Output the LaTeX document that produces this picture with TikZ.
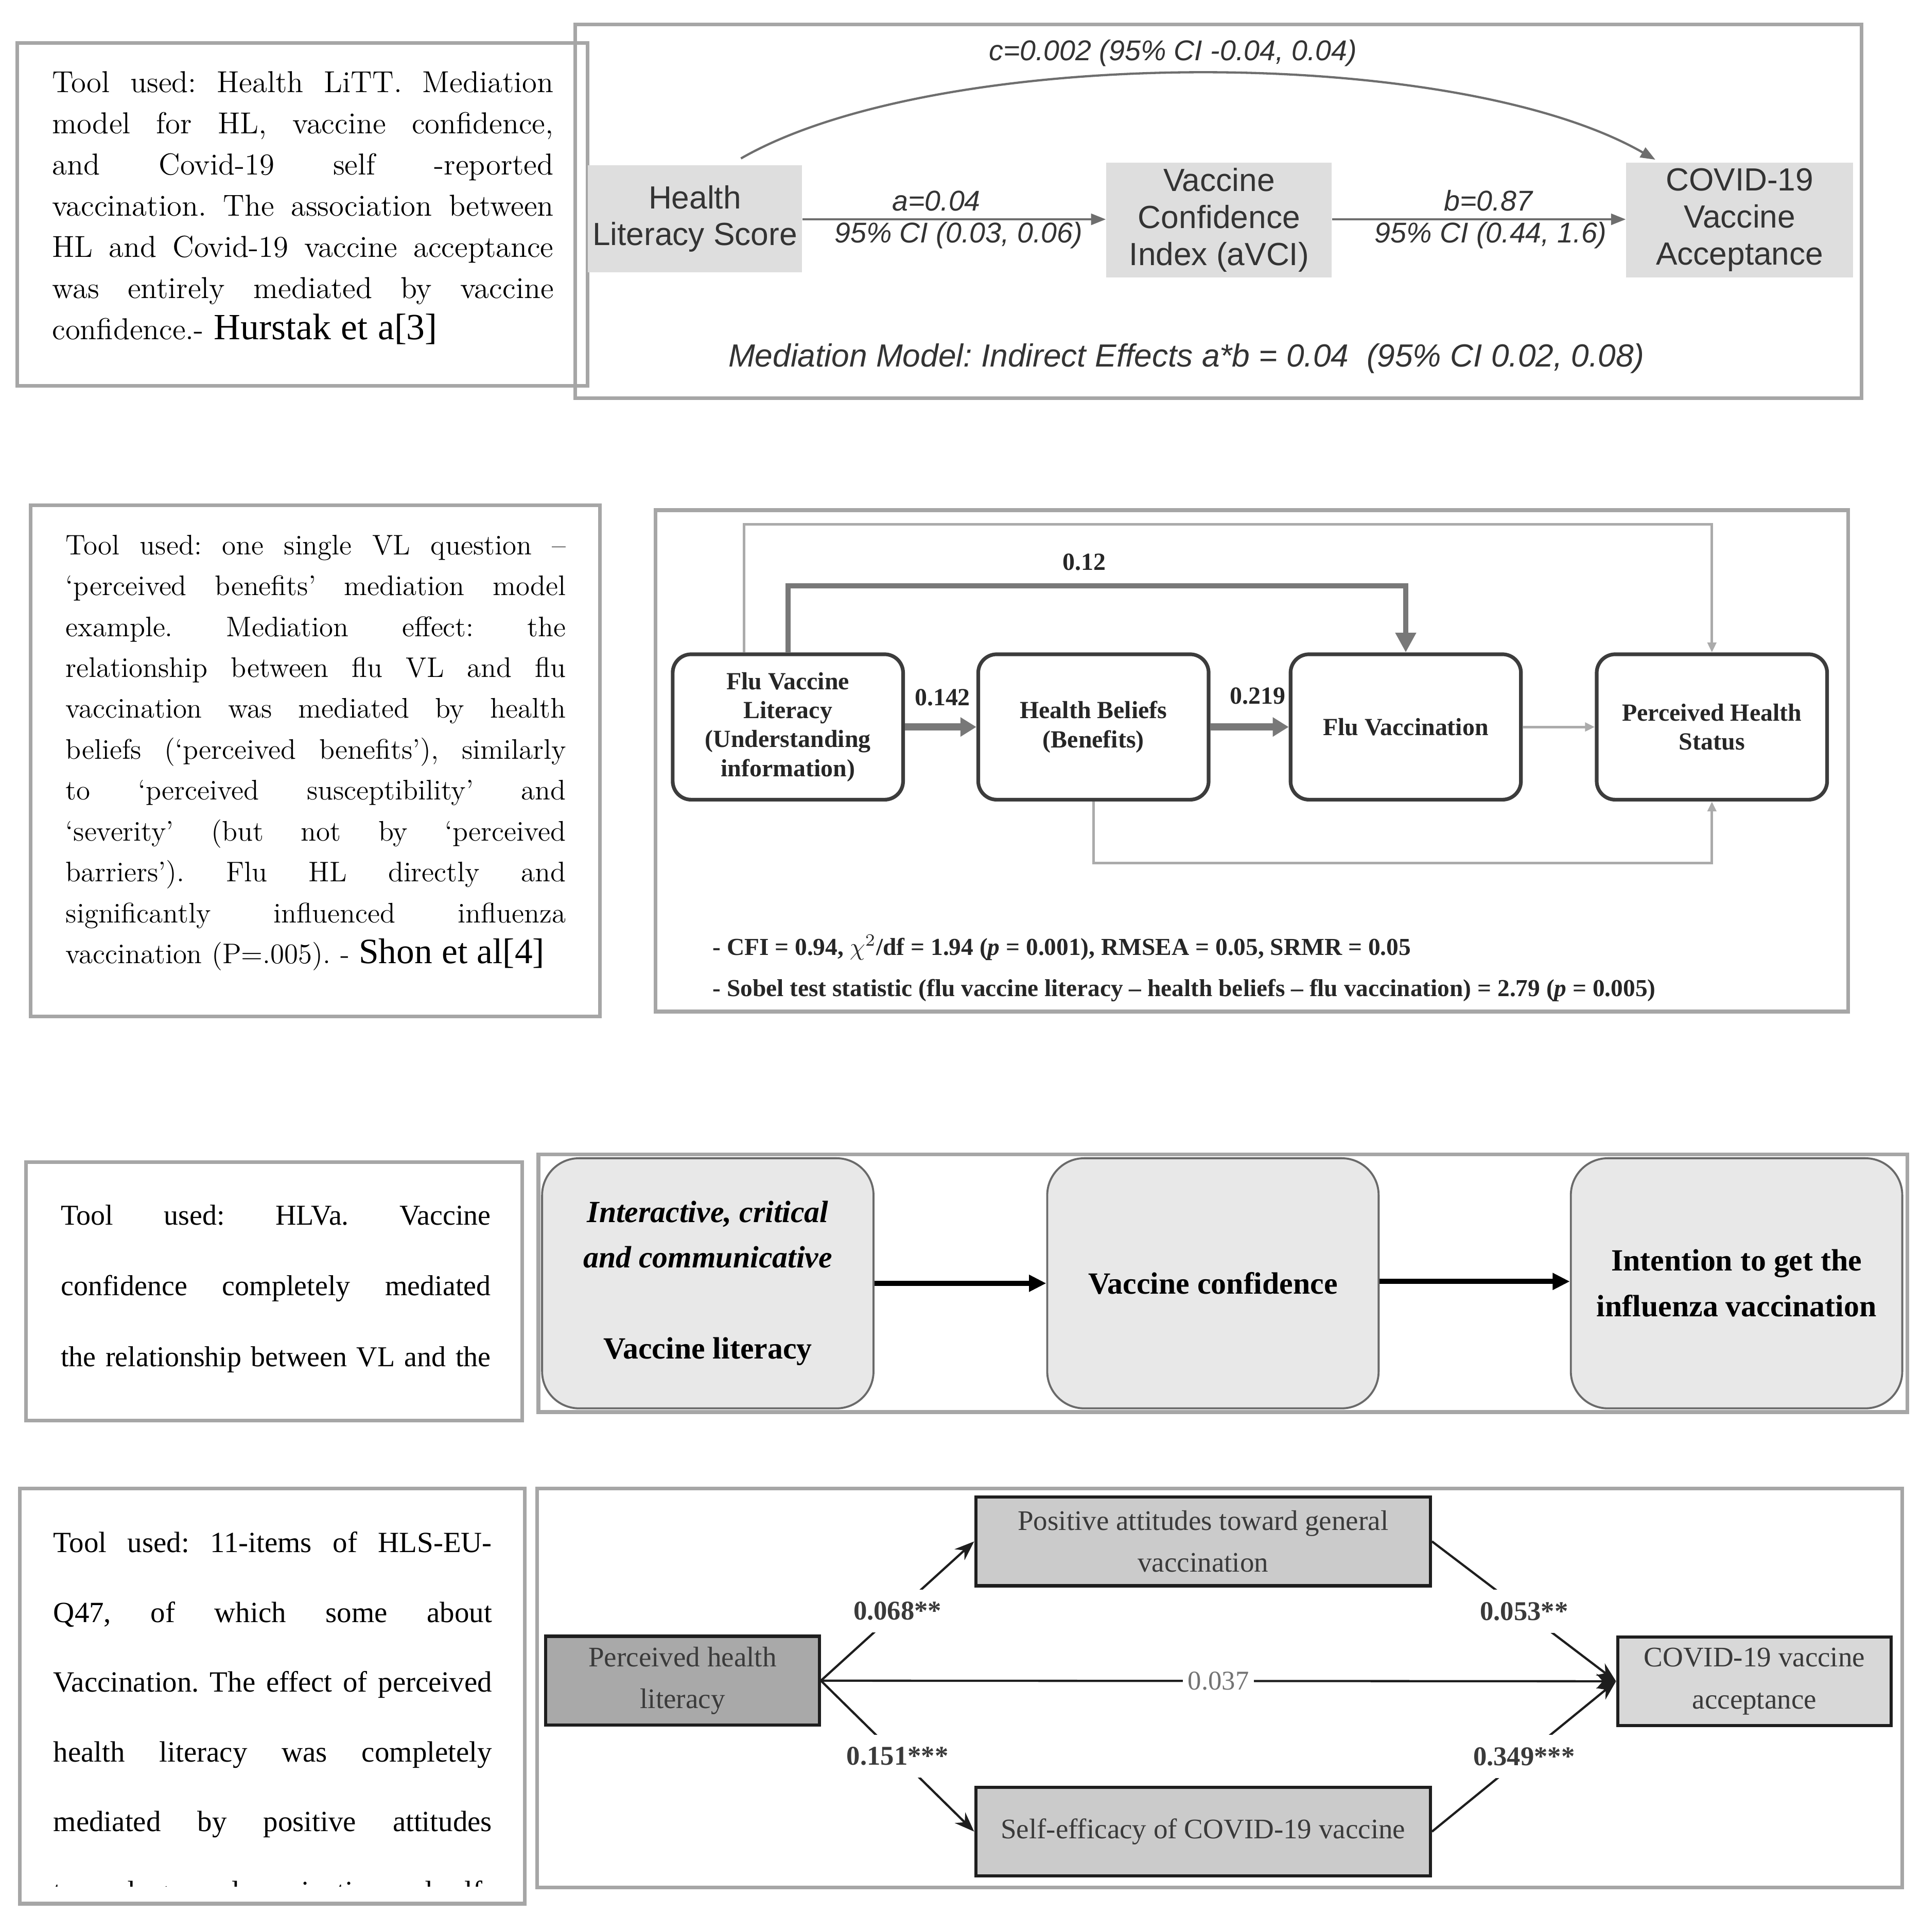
\documentclass[tikz,border=0pt]{standalone}
\usepackage{fontspec}
\newfontfamily\timesfont{Liberation Serif}
\newfontfamily\arialfont{Liberation Sans}
\usetikzlibrary{arrows.meta}
\definecolor{frameGray}{HTML}{A6A6A6}
\definecolor{textGray}{HTML}{333333}
\definecolor{boxGray}{HTML}{DEDEDE}
\definecolor{arrowGray}{HTML}{6E6E6E}
\definecolor{fluBorder}{HTML}{3C3C3C}
\definecolor{fluThick}{HTML}{787878}
\definecolor{fluThin}{HTML}{ABABAB}
\definecolor{hlvaBorder}{HTML}{6A6A6A}
\definecolor{hlvaFill}{HTML}{E8E8E8}
\definecolor{hlsBorder}{HTML}{1E1E1E}
\definecolor{hlsDark}{HTML}{A9A9A9}
\definecolor{hlsMid}{HTML}{CBCBCB}
\definecolor{hlsLight}{HTML}{D8D8D8}
\definecolor{hlsText}{HTML}{3A3A3A}
\newlength{\notewidth}
\newcommand{\jline}[1]{\hbox to \notewidth{\spaceskip=0pt \xspaceskip=0pt #1}\par}
\frenchspacing

\begin{document}
\begin{tikzpicture}[x=0.5pt,y=-0.5pt,
		frame/.style={draw=frameGray,line width=1.5pt},
		note/.style={anchor=base west,inner sep=0pt,text width=#1,
			execute at begin node={\setlength{\notewidth}{#1}}},
		litt box/.style={fill=boxGray,inner sep=0pt,align=center,text=textGray,
			font=\arialfont\fontsize{13}{15}\selectfont},
		litt label/.style={inner sep=0pt,text=textGray,
			font=\arialfont\itshape\fontsize{11.6}{14}\selectfont},
		litt arrow/.style={draw=arrowGray,line width=0.9pt,
			-{Triangle[length=6pt,width=4.5pt]}},
		flu box/.style={draw=fluBorder,line width=1.5pt,rounded corners=7.5pt,
			minimum width=93.5pt,minimum height=59pt,inner sep=1pt,align=center,
			text=black!85,font=\timesfont\bfseries\fontsize{10}{11.75}\selectfont},
		flu label/.style={inner sep=0pt,text=black!85,
			font=\timesfont\bfseries\fontsize{10}{12}\selectfont},
		hlva box/.style={draw=hlvaBorder,line width=0.8pt,rounded corners=15pt,
			fill=hlvaFill,minimum width=134.5pt,minimum height=101.5pt,align=center,
			font=\timesfont\bfseries\fontsize{12.5}{18.5}\selectfont},
		hlva arrow/.style={draw=black,line width=2pt,
			-{Triangle[length=7pt,width=6.5pt]}},
		hls box/.style={draw=hlsBorder,line width=1.3pt,minimum height=36pt,
			inner sep=1pt,align=center,text=hlsText,
			font=\timesfont\fontsize{11.5}{17}\selectfont},
		hls label/.style={fill=white,inner xsep=2pt,inner ysep=5pt,text=hlsText,
			font=\timesfont\bfseries\fontsize{11}{13}\selectfont},
		hls arrow/.style={draw=hlsBorder,line width=0.9pt,
			-{Stealth[length=8pt,width=6pt]}}]
	\path[use as bounding box,fill=white] (0,0) rectangle (1559,1568);

	% Health LiTT
	\draw[frame] (467,20) rectangle (1511,323);
	\draw[frame] (14,35) rectangle (477,313);
	\node[note=203.5pt,font=\fontsize{12.3}{16.7}\selectfont] (hurstak) at (42,75) {%
		\jline{Tool used: Health LiTT. Mediation}
		\jline{model for HL, vaccine confidence,}
		\jline{and Covid-19 self -reported}
		\jline{vaccination. The association between}
		\jline{HL and Covid-19 vaccine acceptance}
		\jline{was entirely mediated by vaccine}
		confidence.- {\timesfont\fontsize{15}{16}\selectfont Hurstak et a[3]}};
	\node[litt box,minimum width=87pt,minimum height=43.5pt] (hls) at (564,177.5) {Health\\Literacy Score};
	\node[litt box,minimum width=91.5pt,minimum height=46.5pt] (vci) at (989.5,178.5) {Vaccine\\Confidence\\Index (aVCI)};
	\node[litt box,minimum width=92pt,minimum height=46.5pt] (cva) at (1412,178.5) {COVID-19\\Vaccine\\Acceptance};
	\draw[litt arrow] (hls.east |- 0,178) -- (vci.west |- 0,178);
	\draw[litt arrow] (vci.east |- 0,178) -- (cva.west |- 0,178);
	\draw[litt arrow] ([xshift=-25pt,yshift=2.5pt]hls.north east)
		.. controls +(80pt,46pt) and +(-82pt,47pt) .. ([xshift=12pt,yshift=1pt]cva.north west);
	\node[litt label] (cpath) at (952,43) {c=0.002 (95\% CI -0.04, 0.04)};
	\node[litt label] (apath) at (760,163) {a=0.04};
	\node[litt label] (aci) at (778,191) {95\% CI (0.03, 0.06)};
	\node[litt label] (bpath) at (1208,163) {b=0.87};
	\node[litt label] (bci) at (1210,191) {95\% CI (0.44, 1.6)};
	\node[litt label,font=\arialfont\itshape\fontsize{13}{15}\selectfont] (indirect) at (963,291)
		{Mediation Model: Indirect Effects a*b = 0.04\ \ (95\% CI 0.02, 0.08)};

	% one single VL question
	\draw[frame] (532,414) rectangle (1500,821);
	\draw[frame] (25,410) rectangle (487,825);
	\node[note=203pt,font=\fontsize{11.5}{16.6}\selectfont] (shon) at (53,450) {%
		\jline{Tool used: one single VL question –}
		\jline{‘perceived benefits’ mediation model}
		\jline{example. Mediation effect: the}
		\jline{relationship between flu VL and flu}
		\jline{vaccination was mediated by health}
		\jline{beliefs (‘perceived benefits’), similarly}
		\jline{to ‘perceived susceptibility’ and}
		\jline{‘severity’ (but not by ‘perceived}
		\jline{barriers’). Flu HL directly and}
		\jline{significantly influenced influenza}
		vaccination (P=.005). - {\timesfont\fontsize{14.5}{16}\selectfont Shon et al[4]}};
	\node[flu box] (fvl) at (639.5,590) {Flu Vaccine\\Literacy\\(Understanding\\information)};
	\node[flu box] (hb) at (887.5,590) {Health Beliefs\\(Benefits)};
	\node[flu box] (fv) at (1141,590) {Flu Vaccination};
	\node[flu box] (phs) at (1389.5,590) {Perceived Health\\Status};
	\draw[fluThick,line width=2.8pt,-{Triangle[length=6.5pt,width=7.5pt]}] (fvl) -- (hb);
	\draw[fluThick,line width=2.8pt,-{Triangle[length=6.5pt,width=7.5pt]}] (hb) -- (fv);
	\draw[fluThin,line width=1pt,-{Triangle[length=4pt,width=3.5pt]}] (fv) -- (phs);
	\draw[fluThick,line width=2.1pt,-{Triangle[length=8pt,width=8pt]}] (fvl.north) -- ++(0,-54) -| (fv.north);
	\draw[fluThin,line width=1pt,-{Triangle[length=4pt,width=3.5pt]}] ([xshift=-17.75pt]fvl.north) -- ++(0,-104) -| (phs.north);
	\draw[fluThin,line width=1pt,-{Triangle[length=4pt,width=3.5pt]}] (hb.south) -- ++(0,50) -| (phs.south);
	\node[flu label] (w012) at (880,456) {0.12};
	\node[flu label] (w142) at (765,566) {0.142};
	\node[flu label] (w219) at (1021,565) {0.219};
	\node[flu label,anchor=west,font=\timesfont\bfseries\fontsize{9.9}{11}\selectfont] (fitidx) at (578,769)
		{- CFI = 0.94, $\chi^2$/df = 1.94 (\textit{p} = 0.001), RMSEA = 0.05, SRMR = 0.05};
	\node[flu label,anchor=west,font=\timesfont\bfseries\fontsize{9.9}{11}\selectfont] (sobel) at (578,804)
		{- Sobel test statistic (flu vaccine literacy – health beliefs – flu vaccination) = 2.79 (\textit{p} = 0.005)};

	% HLVa
	\draw[frame] (437,937) rectangle (1548,1146);
	\draw[frame] (21,943) rectangle (424,1153);
	\node[note=174.5pt,font=\timesfont\fontsize{11.7}{28.75}\selectfont] (hlvanote) at (49,994) {%
		\jline{Tool used: HLVa. Vaccine}
		\jline{confidence completely mediated}
		\jline{the relationship between VL and the}};
	\node[hlva box] (vlit) at (574.5,1041.5) {\textit{Interactive, critical}\\\textit{and communicative}\\[18.5pt]Vaccine literacy};
	\node[hlva box] (vconf) at (984.5,1041.5) {Vaccine confidence};
	\node[hlva box] (intent) at (1409.5,1041.5) {Intention to get the\\influenza vaccination};
	\draw[hlva arrow] (vlit) -- (vconf);
	\draw[hlva arrow] (vconf.east |- 0,1040) -- (intent.west |- 0,1040);

	% HLS-EU-Q47
	\draw[frame] (436,1208) rectangle (1544,1532);
	\draw[frame] (16,1208) rectangle (426,1545);
	\begin{scope}
		\clip (16,1208) rectangle (426,1531);
		\node[note=178pt,font=\timesfont\fontsize{11.9}{28.3}\selectfont] (hlsnote) at (43,1260) {%
			\jline{Tool used: 11-items of HLS-EU-}
			\jline{Q47, of which some about}
			\jline{Vaccination. The effect of perceived}
			\jline{health literacy was completely}
			\jline{mediated by positive attitudes}
			\jline{towards general vaccination and self-}};
	\end{scope}
	\node[hls box,fill=hlsMid,minimum width=184.5pt] (attit) at (976.5,1251) {Positive attitudes toward general\\vaccination};
	\node[hls box,fill=hlsDark,minimum width=111pt] (phl) at (554,1364) {Perceived health\\literacy};
	\node[hls box,fill=hlsLight,minimum width=111pt] (accept) at (1424,1364.5) {COVID-19 vaccine\\acceptance};
	\node[hls box,fill=hlsMid,minimum width=184.5pt] (selfeff) at (976.5,1486.5) {Self-efficacy of COVID-19 vaccine};
	\draw[hls arrow] (phl.east) -- node[hls label] (w068) {0.068**} (attit.west);
	\draw[hls arrow] (phl.east) -- node[hls label] (w151) {0.151***} (selfeff.west);
	\draw[hls arrow] (phl.east) -- node[hls label,font=\timesfont\fontsize{11}{13}\selectfont,text=black!55,inner ysep=2pt] (w037) {0.037} (accept.west);
	\draw[hls arrow] (attit.east) -- node[hls label] (w053) {0.053**} (accept.west);
	\draw[hls arrow] (selfeff.east) -- node[hls label] (w349) {0.349***} (accept.west);
\end{tikzpicture}
\end{document}
